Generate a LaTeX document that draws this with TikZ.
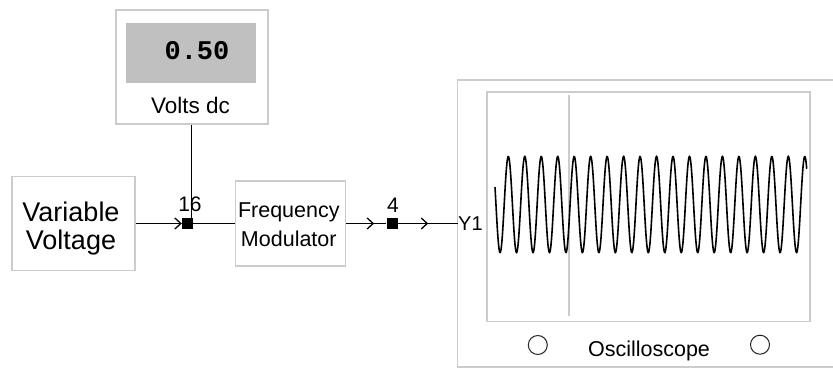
\documentclass[tikz,border=0pt]{standalone}
\usepackage{fontspec}
\setmainfont{Liberation Sans}
\newfontfamily\lcdfont{Liberation Mono}
\usetikzlibrary{arrows.meta,decorations.markings}
\definecolor{boxgray}{RGB}{204,204,204}
\definecolor{dispgray}{RGB}{192,192,192}
\begin{document}
\begin{tikzpicture}[x=1pt,y=-1pt,
  box/.style={draw=boxgray, line width=1.6pt, fill=white, inner sep=0pt},
  wire/.style={black, line width=1.3pt},
  jn/.style={fill=black, minimum size=11pt, inner sep=0pt},
  txt/.style={inner sep=0pt, text=black},
  knob/.style={draw=black!85, circle, minimum size=19pt, line width=1pt, inner sep=0pt},
  midarrow/.style={postaction={decorate}, decoration={markings, mark=at position #1 with {\arrow{Straight Barb[length=6pt,width=11pt]}}}}]
\useasboundingbox (0,0) rectangle (833,369);
\clip (0,0) rectangle (833,369);
\fill[white] (0,0) rectangle (833,369);

% meter
\node[box, minimum width=152pt, minimum height=114pt] (meter) at (191.7,67.2) {};
\node[fill=dispgray, minimum width=130pt, minimum height=60pt, inner sep=0pt] (disp) at (191,52.7) {};
\node[txt, anchor=base, font=\lcdfont\bfseries\fontsize{27}{30}\selectfont] (reading) at (197,59.3) {0.50};
\node[txt, anchor=base, font=\fontsize{22.5}{26}\selectfont] (vdc) at (190.5,113.3) {Volts dc};

% variable voltage
\node[box, minimum width=123pt, minimum height=94pt] (vv) at (73.3,223.5) {};
\node[txt, align=center, font=\fontsize{27}{28.3}\selectfont] (vvtext) at (71,228.8) {Variable\\Voltage};

% frequency modulator
\node[box, minimum width=110pt, minimum height=85pt] (fm) at (290.3,223.5) {};
\node[txt, align=center, font=\fontsize{21.5}{28.4}\selectfont] (fmtext) at (288.8,224.8) {Frequency\\Modulator};

% junctions
\node[jn] (j1) at (187.5,223.5) {};
\node[jn] (j2) at (392,223.5) {};
\node[txt, anchor=base, font=\fontsize{21}{24}\selectfont] (l16) at (190,211) {16};
\node[txt, anchor=base, font=\fontsize{21}{24}\selectfont] (l4) at (393,212) {4};

% oscilloscope
\node[box, minimum width=392pt, minimum height=287pt] (scope) at (653.5,223.5) {};
\node[box, line width=1.4pt, minimum width=323pt, minimum height=229pt] (screen) at (648.5,206.7) {};
\draw[boxgray, line width=1.3pt] (569,95) -- (569,316);
\draw[black, line width=1.6pt] plot[domain=-9.2:302.5, samples=900] ({\x+504.2}, {204.5-48*sin(21.858*\x)});
\node[txt, anchor=base west, font=\fontsize{20}{24}\selectfont] (y1) at (458,230.7) {Y1};
\node[knob] (k1) at (537.8,345) {};
\node[knob] (k2) at (760,344.7) {};
\node[txt, anchor=base, font=\fontsize{21.5}{24}\selectfont] (osc) at (649,356.7) {Oscilloscope};

% wires
\draw[wire] (meter.south) -- (meter.south |- j1.north);
\draw[wire, -{Straight Barb[length=6pt,width=11pt]}] (vv.east |- j1.west) -- (j1.west);
\draw[wire] (j1.east) -- (j1.east -| fm.west);
\draw[wire, midarrow=28pt] (fm.east |- j2.west) -- (j2.west);
\draw[wire, midarrow=30.5pt] (j2.east) -- (y1.west |- j2.east);
\end{tikzpicture}
\end{document}
